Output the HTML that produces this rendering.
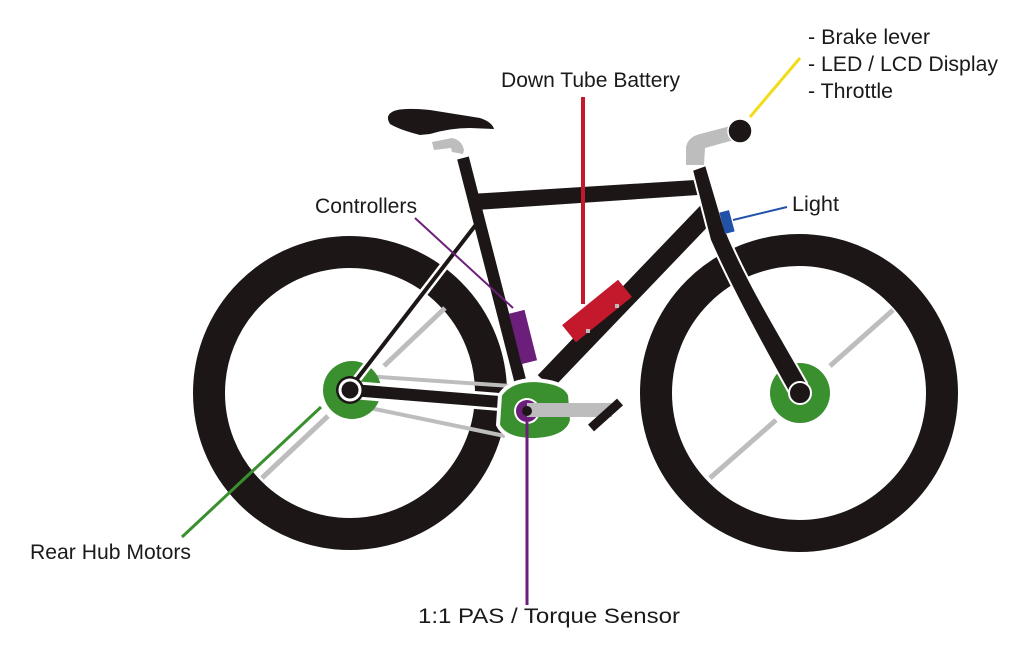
<!DOCTYPE html>
<html><head><style>
html,body{margin:0;padding:0;background:#fff;}
svg{display:block;}
text{font-family:"Liberation Sans",sans-serif;font-size:21px;fill:#1a1a1a;}
</style></head><body>
<svg width="1024" height="656" viewBox="0 0 1024 656" xmlns="http://www.w3.org/2000/svg">
<rect width="1024" height="656" fill="#fff"/>
<circle cx="350" cy="393" r="141" fill="none" stroke="#1c1716" stroke-width="32"/>
<circle cx="799" cy="393" r="143" fill="none" stroke="#1c1716" stroke-width="32"/>
<line x1="445" y1="308" x2="384" y2="366" stroke="#bdbdbd" stroke-width="5"/>
<line x1="328" y1="416" x2="262" y2="478" stroke="#bdbdbd" stroke-width="5"/>
<line x1="893" y1="310" x2="830" y2="366" stroke="#bdbdbd" stroke-width="5"/>
<line x1="776" y1="420" x2="710" y2="478" stroke="#bdbdbd" stroke-width="5"/>
<line x1="365" y1="376" x2="510" y2="386" stroke="#bdbdbd" stroke-width="4"/>
<line x1="360" y1="406" x2="505" y2="436" stroke="#bdbdbd" stroke-width="4"/>
<circle cx="352" cy="390" r="29" fill="#3a8f2e"/>
<circle cx="800" cy="393" r="30" fill="#3a8f2e"/>
<line x1="478" y1="222" x2="350" y2="388" stroke="#fff" stroke-width="9"/>
<line x1="478" y1="222" x2="350" y2="388" stroke="#1c1716" stroke-width="4"/>
<line x1="352" y1="390" x2="512" y2="403" stroke="#fff" stroke-width="18"/>
<line x1="352" y1="390" x2="512" y2="403" stroke="#1c1716" stroke-width="12"/>
<circle cx="350" cy="390" r="14" fill="#1c1716"/>
<circle cx="350" cy="390" r="10" fill="none" stroke="#fff" stroke-width="3"/>
<circle cx="350" cy="390" r="7" fill="#1c1716"/>
<line x1="463" y1="158" x2="520" y2="380" stroke="#1c1716" stroke-width="12"/>
<polygon points="470,194 695,180 698,195 476,210" fill="#1c1716"/>
<line x1="708" y1="212" x2="545" y2="382" stroke="#1c1716" stroke-width="20"/>
<path d="M692,170 L706,165 L724,226 C747,283 782,338 807,383 L793,400 C763,347 733,292 710,240 Z" fill="#1c1716" stroke="#fff" stroke-width="2"/>
<circle cx="800" cy="393" r="11" fill="#1c1716" stroke="#fff" stroke-width="2"/>
<path d="M686,165 L686,147 Q688,137 700,134 L738,124 L741,138 L705,148 L704,165 Z" fill="#bdbdbd"/>
<circle cx="740" cy="131" r="12" fill="#1c1716" stroke="#fff" stroke-width="1.5"/>
<path d="M432,142 L452,138 Q462,140 464,150 L463,154 L452,152 L451,148 L434,150 Z" fill="#bdbdbd"/>
<path d="M392,112 Q400,107 430,110 L480,118 Q492,122 494,129 L470,128 Q450,128 430,134 L420,135 Q400,130 390,124 Q385,116 392,112 Z" fill="#1c1716"/>
<path d="M500,395 Q510,380 535,380 Q565,382 570,395 L572,420 Q568,438 535,440 Q505,440 498,425 Z" fill="#3a8f2e" stroke="#fff" stroke-width="4"/>
<circle cx="527" cy="411" r="13" fill="#fff"/>
<circle cx="527" cy="411" r="11" fill="#6b1f7a"/>
<rect x="527" y="403" width="85" height="14" fill="#bdbdbd"/>
<circle cx="527" cy="411" r="5" fill="#1c1716"/>
<line x1="591" y1="428" x2="620" y2="402" stroke="#1c1716" stroke-width="9"/>
<g transform="translate(597,311) rotate(-39)">
<rect x="-36" y="-11" width="72" height="22" fill="#c4182c"/>
</g>
<rect x="586" y="329" width="4" height="4" fill="#bdbdbd"/>
<rect x="615" y="304" width="4" height="4" fill="#bdbdbd"/>
<g transform="translate(523,337) rotate(-14)">
<rect x="-8" y="-26" width="16" height="52" fill="#6b1f7a"/>
</g>
<g transform="translate(727,222) rotate(-15)"><rect x="-5" y="-11" width="10" height="22" fill="#2251a8"/></g>
<line x1="583" y1="97" x2="583" y2="304" stroke="#c4182c" stroke-width="4"/>
<line x1="415" y1="218" x2="513" y2="308" stroke="#6b1f7a" stroke-width="2"/>
<line x1="733" y1="220" x2="787" y2="207" stroke="#2251a8" stroke-width="2"/>
<line x1="750" y1="117" x2="800" y2="58" stroke="#f2dc1a" stroke-width="3"/>
<line x1="182" y1="537" x2="321" y2="407" stroke="#3a8f2e" stroke-width="3"/>
<line x1="527" y1="420" x2="527" y2="605" stroke="#6b1f7a" stroke-width="3"/>
<text x="501" y="87" textLength="179" lengthAdjust="spacingAndGlyphs">Down Tube Battery</text>
<text x="315" y="213" textLength="102" lengthAdjust="spacingAndGlyphs">Controllers</text>
<text x="792" y="211" textLength="47" lengthAdjust="spacingAndGlyphs">Light</text>
<text x="808" y="44" textLength="122" lengthAdjust="spacingAndGlyphs">- Brake lever</text>
<text x="808" y="71" textLength="190" lengthAdjust="spacingAndGlyphs">- LED / LCD Display</text>
<text x="808" y="98" textLength="85" lengthAdjust="spacingAndGlyphs">- Throttle</text>
<text x="30" y="559" textLength="161" lengthAdjust="spacingAndGlyphs">Rear Hub Motors</text>
<text x="418" y="623" textLength="262" lengthAdjust="spacingAndGlyphs">1:1 PAS / Torque Sensor</text>
</svg>
</body></html>
